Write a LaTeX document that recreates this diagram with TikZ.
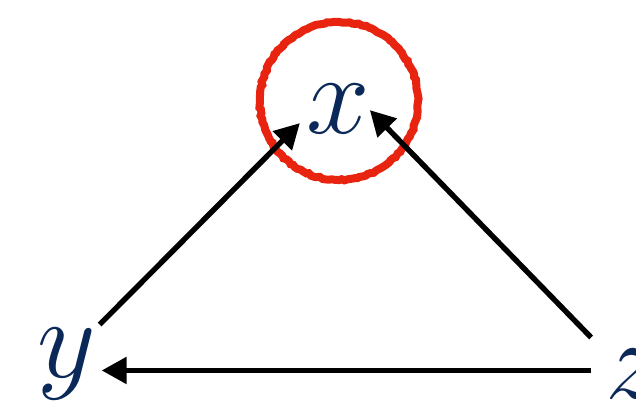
\documentclass[tikz,border=0pt]{standalone}
\usepackage{fix-cm}
\usepackage{amsmath, amssymb}
\usepackage{xcolor}
\usepackage{tikz}
\usetikzlibrary{arrows.meta, decorations.pathmorphing}

\definecolor{navy}{RGB}{10,40,88}
\definecolor{ringred}{RGB}{232,36,16}

\begin{document}
\begin{tikzpicture}[x=0.5pt, y=-0.5pt,
    var/.style={text=navy, font=\fontsize{57}{60}\selectfont, inner sep=1.5pt},
    edge/.style={-{Triangle[length=12.5pt, width=13pt]}, line width=2.7pt},
    ring/.style={draw=ringred, line width=4pt, decorate,
        decoration={random steps, segment length=1.5pt, amplitude=0.4pt}}]
    \useasboundingbox (0,0) rectangle (636,402);
    \draw[ring] (339,101) circle (39.5pt);
    \node[var, anchor=base, inner sep=3pt] (x) at (338,133) {$x$};
    \node[var, anchor=base] (y) at (67,377) {$y$};
    \node[var, anchor=base, inner sep=7pt] (z) at (634,398) {$z$};
    \draw[edge] (y.north east) -- (x.201);
    \draw[edge, shorten >=-4.5pt] (z.140) -- (x.348);
    \draw[edge, shorten >=1pt] (z.176) -- (z.176 -| y.east);
\end{tikzpicture}
\end{document}
